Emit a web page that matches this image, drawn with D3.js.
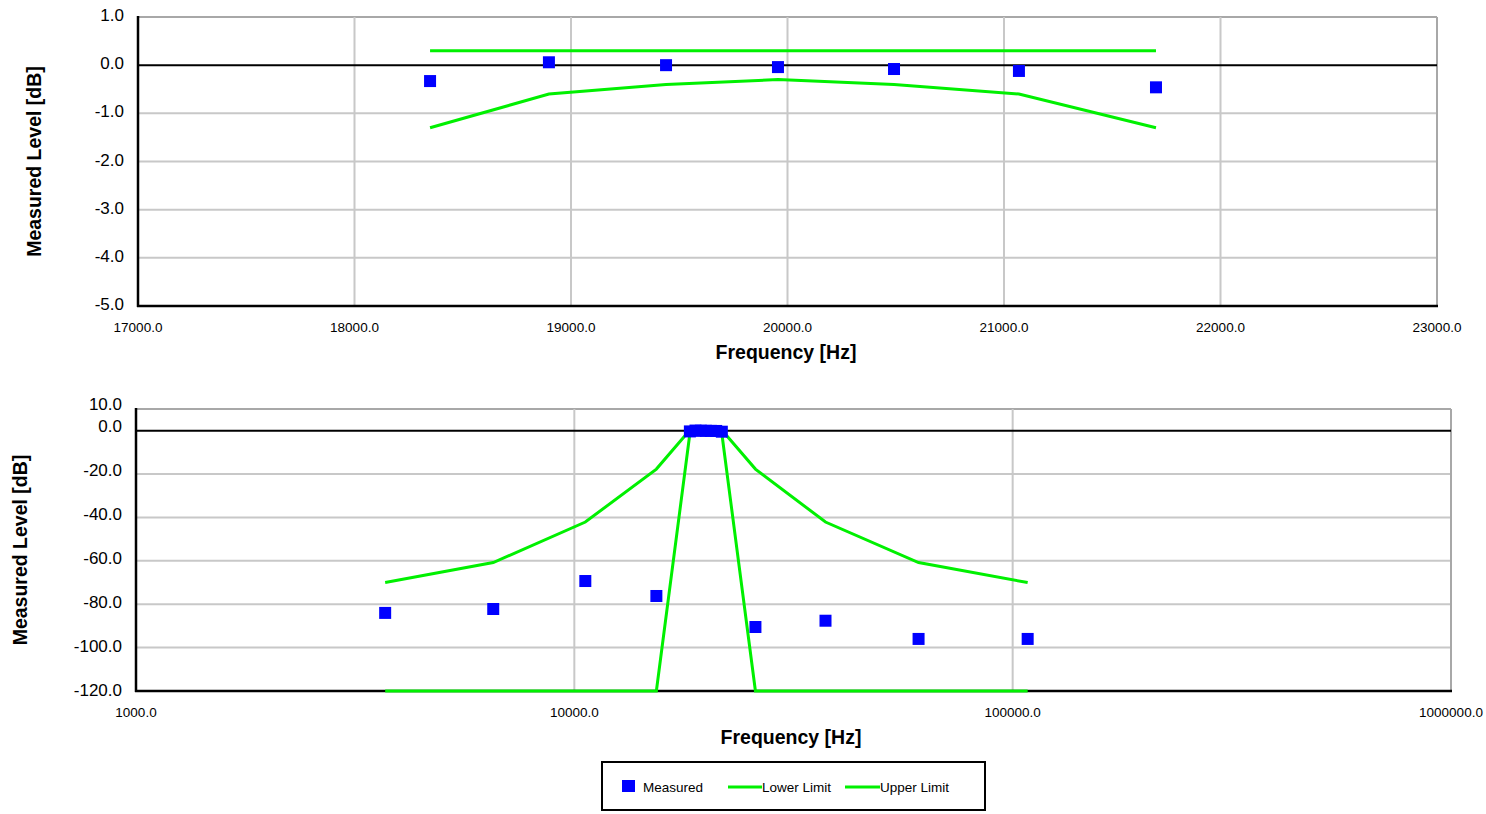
<!DOCTYPE html>
<html>
<head>
<meta charset="utf-8">
<script src="https://cdn.jsdelivr.net/npm/d3@7"></script>
<style>
    body { margin: 0; background: #fff; }
    svg { font-family: "Liberation Sans", Arial, sans-serif; }
</style>
</head>
<body>
<div id="chart"></div>
<script>
// test frequencies [Hz]
const freq = [3702, 6531, 10594, 15387, 18349, 18898, 19439, 19956, 20492, 21069, 21702, 25891, 37411, 61000, 108200];
const measured = [-84.0, -82.2, -69.3, -76.2, -0.33, 0.06, 0.0, -0.04, -0.08, -0.12, -0.46, -90.5, -87.6, -96.0, -96.0];
const lowerLimit = [-120, -120, -120, -120, -1.3, -0.6, -0.4, -0.3, -0.4, -0.6, -1.3, -120, -120, -120, -120];
const upperLimit = [-70, -60.8, -42.1, -17.7, 0.3, 0.3, 0.3, 0.3, 0.3, 0.3, 0.3, -17.7, -42.1, -60.8, -70];

const topXTicks = [17000, 18000, 19000, 20000, 21000, 22000, 23000];
const topYTicks = [1, 0, -1, -2, -3, -4, -5];
const botXTicks = [1000, 10000, 100000, 1000000];
const botYTicks = [10, 0, -20, -40, -60, -80, -100, -120];

const legendItems = ["Measured", "Lower Limit", "Upper Limit"];

const green = "#00f000";
const blue = "#0000ff";

function init() {
    let w = 1486;
    let h = 814;

    let svg = d3.select("#chart")
        .append("svg")
        .attr("width", w)
        .attr("height", h);

    let rows = freq.map(function (f, i) {
        return { f: f, m: measured[i], lo: lowerLimit[i], up: upperLimit[i] };
    });

    function drawPanel(opt) {
        let x = opt.x, y = opt.y;
        let g = svg.append("g");
        let x0 = x.range()[0], x1 = x.range()[1];
        let y0 = y.range()[0], y1 = y.range()[1];

        // horizontal grid
        g.selectAll(".hgrid")
            .data(opt.yTicks.filter(d => d != 0))
            .enter()
            .append("line")
            .attr("x1", x0).attr("x2", x1)
            .attr("y1", d => y(d)).attr("y2", d => y(d))
            .attr("stroke", d => d == opt.yTicks[0] ? "#a8a8a8" : "#c8c8c8")
            .attr("stroke-width", 2);

        // vertical grid
        g.selectAll(".vgrid")
            .data(opt.xTicks.slice(1))
            .enter()
            .append("line")
            .attr("x1", d => x(d)).attr("x2", d => x(d))
            .attr("y1", y1).attr("y2", y0)
            .attr("stroke", (d, i) => i == opt.xTicks.length - 2 ? "#a8a8a8" : "#c8c8c8")
            .attr("stroke-width", 2);

        // zero line
        g.append("line")
            .attr("x1", x0).attr("x2", x1)
            .attr("y1", y(0)).attr("y2", y(0))
            .attr("stroke", "black")
            .attr("stroke-width", 2);

        // axes
        g.append("line")
            .attr("x1", x0).attr("x2", x0)
            .attr("y1", y1 - 1).attr("y2", y0 + 1)
            .attr("stroke", "black").attr("stroke-width", 2.5);
        g.append("line")
            .attr("x1", x0 - 1).attr("x2", x1 + 1)
            .attr("y1", y0).attr("y2", y0)
            .attr("stroke", "black").attr("stroke-width", 2.5);

        // tick labels
        g.selectAll(".ytl")
            .data(opt.yTicks)
            .enter()
            .append("text")
            .attr("x", x0 - 14)
            .attr("y", (d, i) => y(d) + 5 - opt.yLift(i))
            .attr("text-anchor", "end")
            .attr("font-size", 17)
            .text(d => d.toFixed(1));

        g.selectAll(".xtl")
            .data(opt.xTicks)
            .enter()
            .append("text")
            .attr("x", d => x(d))
            .attr("y", y0 + 26)
            .attr("text-anchor", "middle")
            .attr("font-size", 13.5)
            .text(d => d.toFixed(1));

        // axis titles
        g.append("text")
            .attr("transform", "translate(" + opt.yTitleX + "," + ((y0 + y1) / 2) + ") rotate(-90)")
            .attr("text-anchor", "middle")
            .attr("font-size", 19.5)
            .attr("font-weight", "bold")
            .text("Measured Level [dB]");
        g.append("text")
            .attr("x", opt.xTitleX)
            .attr("y", y0 + 53)
            .attr("text-anchor", "middle")
            .attr("font-size", 19.5)
            .attr("font-weight", "bold")
            .text("Frequency [Hz]");

        let data = rows.filter(d => d.f >= x.domain()[0] && d.f <= x.domain()[1]);

        let line = key => d3.line().x(d => x(d.f)).y(d => y(d[key]));

        ["lo", "up"].forEach(function (key) {
            g.append("path")
                .datum(data)
                .attr("d", line(key))
                .attr("fill", "none")
                .attr("stroke", green)
                .attr("stroke-width", 3);
        });

        g.selectAll(".pt")
            .data(data)
            .enter()
            .append("rect")
            .attr("x", d => x(d.f) - 6)
            .attr("y", d => y(d.m) - 6)
            .attr("width", 12)
            .attr("height", 12)
            .attr("fill", blue);
    }

    drawPanel({
        x: d3.scaleLinear().domain([17000, 23000]).range([138, 1437]),
        y: d3.scaleLinear().domain([-5, 1]).range([306, 17]),
        xTicks: topXTicks,
        yTicks: topYTicks,
        yLift: i => 1,
        yTitleX: 41,
        xTitleX: 786
    });

    drawPanel({
        x: d3.scaleLog().domain([1000, 1000000]).range([136, 1451]),
        y: d3.scaleLinear().domain([-120, 10]).range([691, 409]),
        xTicks: botXTicks,
        yTicks: botYTicks,
        yLift: i => Math.max(0, 4 - i * 0.5),
        yTitleX: 27,
        xTitleX: 791
    });

    // legend
    let lg = svg.append("g");
    lg.append("rect")
        .attr("x", 602).attr("y", 762)
        .attr("width", 383).attr("height", 48)
        .attr("fill", "white")
        .attr("stroke", "black")
        .attr("stroke-width", 2);

    lg.append("rect")
        .attr("x", 622).attr("y", 780)
        .attr("width", 13).attr("height", 12)
        .attr("fill", blue);
    lg.append("text")
        .attr("x", 643).attr("y", 792)
        .attr("font-size", 13.5)
        .text(legendItems[0]);

    [[728, 762], [845, 880]].forEach(function (p, i) {
        lg.append("line")
            .attr("x1", p[0]).attr("x2", p[1])
            .attr("y1", 787).attr("y2", 787)
            .attr("stroke", green)
            .attr("stroke-width", 3);
        lg.append("text")
            .attr("x", p[1]).attr("y", 792)
            .attr("font-size", 13.5)
            .text(legendItems[i + 1]);
    });
}

window.onload = init;
</script>
</body>
</html>
